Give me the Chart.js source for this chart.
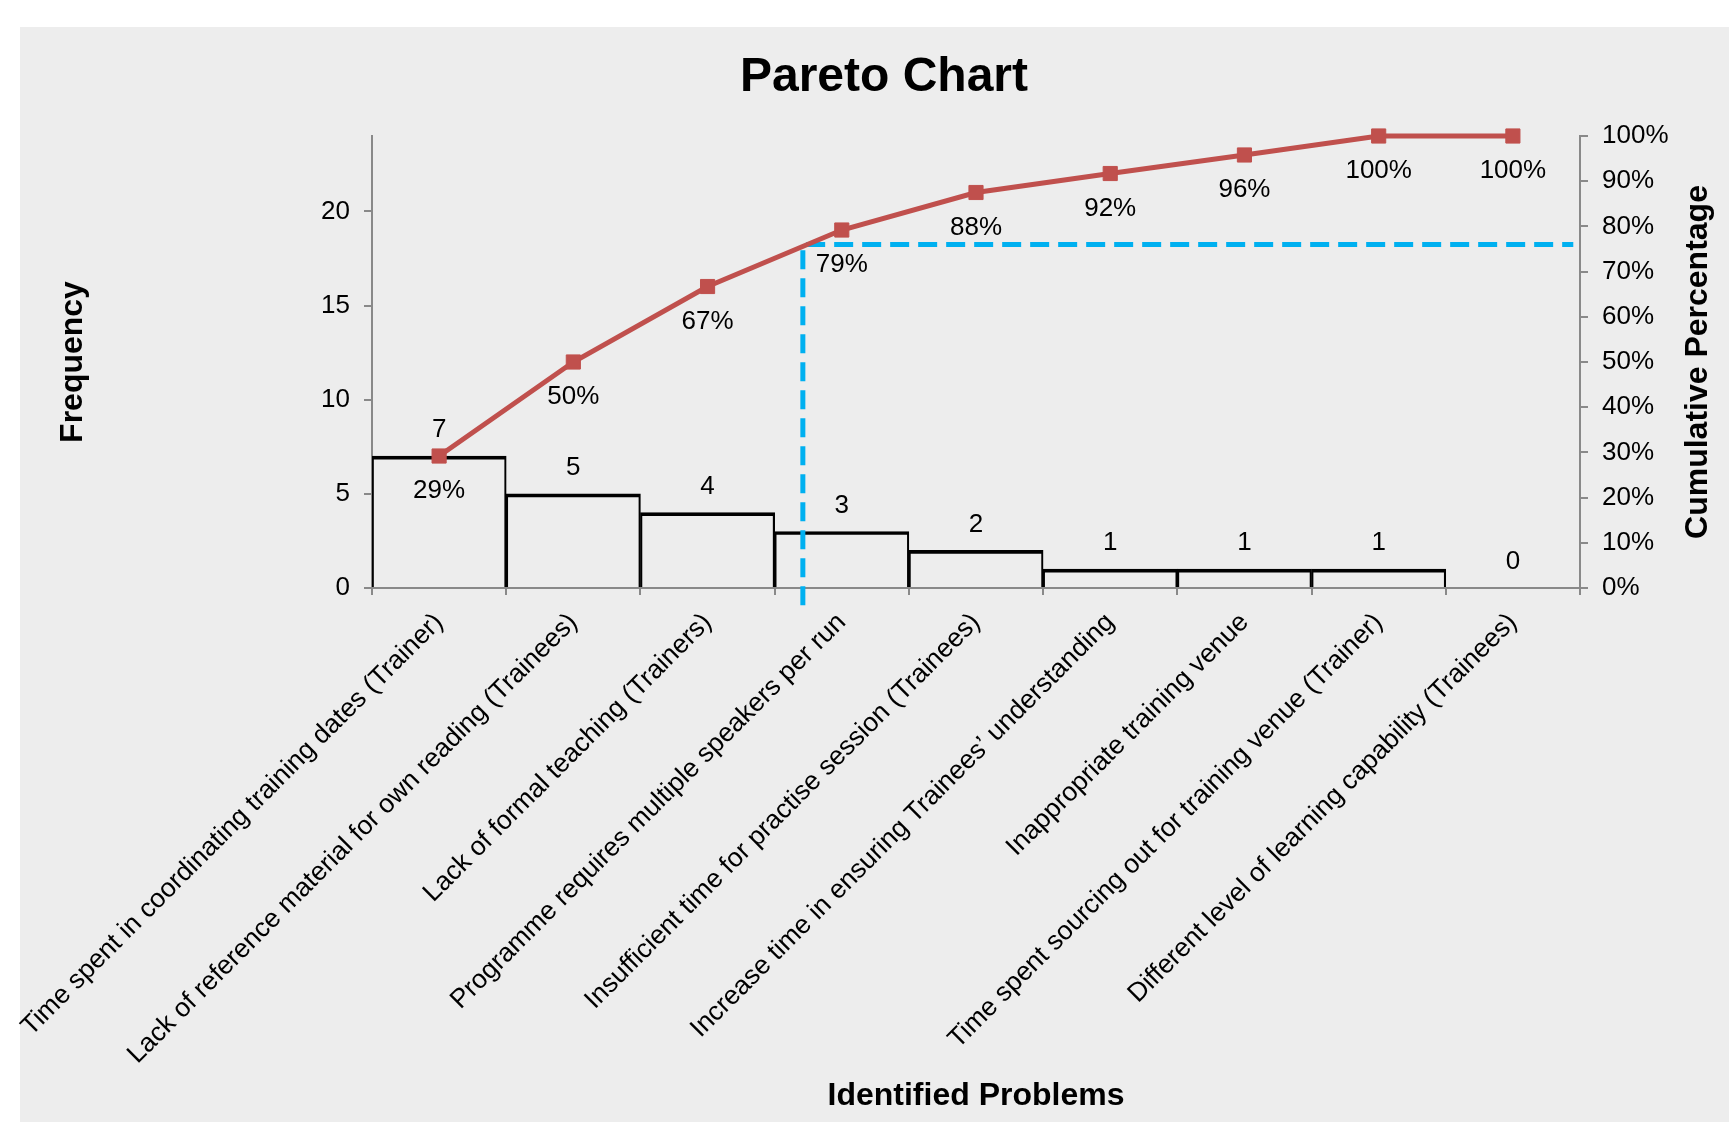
<!DOCTYPE html>
<html>
<head>
<meta charset="utf-8">
<title>Pareto Chart</title>
<script src="https://cdn.jsdelivr.net/npm/chart.js@4.4.1/dist/chart.umd.min.js"></script>
<style>
  html, body { margin: 0; padding: 0; background: #ffffff; overflow: hidden; }
  canvas { display: block; }
</style>
</head>
<body>
<canvas id="pareto" width="1729" height="1124"></canvas>
<script>
// Problem categories, sorted by frequency
const problems = [
  'Time spent in coordinating training dates (Trainer)',
  'Lack of reference material for own reading (Trainees)',
  'Lack of formal teaching (Trainers)',
  'Programme requires multiple speakers per run',
  'Insufficient time for practise session (Trainees)',
  'Increase time in ensuring Trainees\u2019 understanding',
  'Inappropriate training venue',
  'Time spent sourcing out for training venue (Trainer)',
  'Different level of learning capability (Trainees)'
];
const frequency = [7, 5, 4, 3, 2, 1, 1, 1, 0];
const cumulativePct = [29.2, 50.0, 66.7, 79.2, 87.5, 91.7, 95.8, 100, 100];

// Axis tick values
const freqTicks = [0, 5, 10, 15, 20];
const pctTicks = [0, 10, 20, 30, 40, 50, 60, 70, 80, 90, 100];

// Cut-off guide: x in category units, y in percent
const cutoffX = [2.71, 2.71, 8.45];
const cutoffPct = [-3.8, 76, 76];

const FONT = "'Liberation Sans', Arial, sans-serif";
const AXIS_GRAY = '#898989';

const paretoDecor = {
  id: 'paretoDecor',
  beforeDraw(chart) {
    const ctx = chart.ctx;
    ctx.save();
    ctx.fillStyle = '#EDEDED';
    ctx.fillRect(20, 27, chart.width - 20, chart.height - 29);
    ctx.restore();
  },
  afterDatasetsDraw(chart) {
    const ctx = chart.ctx;
    ctx.save();
    ctx.fillStyle = '#000000';
    ctx.font = '26px ' + FONT;
    ctx.textAlign = 'center';
    ctx.textBaseline = 'middle';
    // frequency above each bar
    chart.getDatasetMeta(2).data.forEach((bar, i) => {
      ctx.fillText(String(frequency[i]), bar.x, bar.y - 26);
    });
    // cumulative percentage below each point
    chart.getDatasetMeta(0).data.forEach((pt, i) => {
      ctx.fillText(Math.round(cumulativePct[i]) + '%', pt.x, pt.y + 35);
    });
    // secondary axis title, reading bottom to top
    const s = chart.scales.yPct;
    ctx.font = 'bold 32px ' + FONT;
    ctx.translate(s.right - 30, (s.top + s.bottom) / 2);
    ctx.rotate(-Math.PI / 2);
    ctx.fillText('Cumulative Percentage', 0, 0);
    ctx.restore();
  }
};

new Chart(document.getElementById('pareto'), {
  data: {
    labels: problems,
    datasets: [
      {
        type: 'line',
        label: 'Cumulative Percentage',
        data: cumulativePct,
        yAxisID: 'yPct',
        xAxisID: 'x',
        borderColor: '#C0504D',
        backgroundColor: '#C0504D',
        borderWidth: 5,
        tension: 0,
        pointStyle: 'rect',
        pointRadius: 10,
        pointHoverRadius: 10,
        pointBorderWidth: 1,
        pointBackgroundColor: '#C0504D',
        pointBorderColor: '#C0504D',
        clip: false,
        order: 1
      },
      {
        type: 'line',
        label: 'Cut-off',
        data: cutoffX.map((x, i) => ({ x: x, y: cutoffPct[i] })),
        xAxisID: 'xd',
        yAxisID: 'yPct',
        borderColor: '#00B0F0',
        borderWidth: 5,
        borderDash: [19, 9],
        borderCapStyle: 'butt',
        borderJoinStyle: 'miter',
        pointRadius: 0,
        fill: false,
        clip: false,
        order: 2
      },
      {
        type: 'bar',
        label: 'Frequency',
        data: frequency,
        yAxisID: 'yFreq',
        xAxisID: 'x',
        grouped: false,
        backgroundColor: 'rgba(0,0,0,0)',
        borderColor: '#000000',
        borderWidth: { top: 3, left: 1.5, right: 1.5, bottom: 0 },
        borderSkipped: 'start',
        categoryPercentage: 1,
        barPercentage: 1,
        order: 3
      }
    ]
  },
  options: {
    responsive: false,
    animation: false,
    devicePixelRatio: 1,
    layout: { padding: { left: 40, right: 1, top: 0, bottom: 0 } },
    plugins: {
      legend: { display: false },
      tooltip: { enabled: false },
      title: {
        display: true,
        text: 'Pareto Chart',
        color: '#000000',
        font: { family: FONT, size: 48, weight: 'bold', lineHeight: 1.2 },
        padding: { top: 49, bottom: 29.4 }
      }
    },
    scales: {
      x: {
        type: 'category',
        position: 'bottom',
        offset: true,
        grid: {
          display: true,
          offset: true,
          drawOnChartArea: false,
          drawTicks: true,
          tickLength: 7,
          color: AXIS_GRAY,
          lineWidth: 2
        },
        border: { display: true, color: AXIS_GRAY, width: 2 },
        ticks: {
          autoSkip: false,
          minRotation: 45,
          maxRotation: 45,
          padding: 12,
          color: '#000000',
          font: { family: FONT, size: 26.5 }
        },
        title: {
          display: true,
          text: 'Identified Problems',
          color: '#000000',
          font: { family: FONT, size: 32, weight: 'bold', lineHeight: 1.2 },
          padding: { top: 0, bottom: 8.8 }
        },
        afterFit(s) {
          s.height = 536;
          s.paddingLeft = 0;
          s.paddingRight = 0;
        }
      },
      xd: {
        type: 'linear',
        position: 'bottom',
        display: false,
        min: -0.5,
        max: 8.5
      },
      yFreq: {
        type: 'linear',
        position: 'left',
        min: 0,
        max: 24,
        grid: {
          display: true,
          drawOnChartArea: false,
          drawTicks: true,
          tickLength: 8,
          color: AXIS_GRAY,
          lineWidth: 2
        },
        border: { display: true, color: AXIS_GRAY, width: 2 },
        afterBuildTicks(s) { s.ticks = freqTicks.map(v => ({ value: v })); },
        ticks: {
          padding: 14,
          color: '#000000',
          font: { family: FONT, size: 26 }
        },
        title: {
          display: true,
          text: 'Frequency',
          color: '#000000',
          font: { family: FONT, size: 32, weight: 'bold', lineHeight: 1.2 },
          padding: { top: 14, bottom: 0 }
        },
        afterFit(s) { s.width = 332; }
      },
      yPct: {
        type: 'linear',
        position: 'right',
        min: 0,
        max: 100,
        grid: {
          display: true,
          drawOnChartArea: false,
          drawTicks: true,
          tickLength: 8,
          color: AXIS_GRAY,
          lineWidth: 2
        },
        border: { display: true, color: AXIS_GRAY, width: 2 },
        afterBuildTicks(s) { s.ticks = pctTicks.map(v => ({ value: v })); },
        ticks: {
          padding: 14,
          color: '#000000',
          font: { family: FONT, size: 26 },
          callback: v => v + '%'
        },
        afterFit(s) { s.width = 148; }
      }
    }
  },
  plugins: [paretoDecor]
});
</script>
</body>
</html>
